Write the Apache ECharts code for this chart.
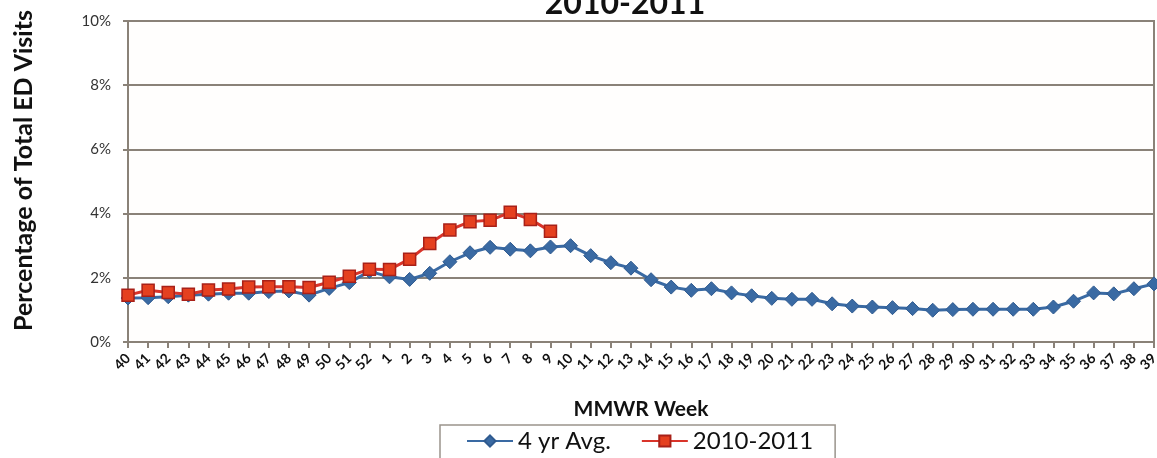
<!DOCTYPE html>
<html><head><meta charset="utf-8">
<script src="https://cdn.jsdelivr.net/npm/echarts@6/dist/echarts.min.js"></script>
<style>html,body{margin:0;padding:0;background:#fff}#c{width:1157px;height:458px}</style>
</head><body><div id="c"></div>
<script>
const weeks = ['40','41','42','43','44','45','46','47','48','49','50','51','52','1','2','3','4','5','6','7','8','9','10','11','12','13','14','15','16','17','18','19','20','21','22','23','24','25','26','27','28','29','30','31','32','33','34','35','36','37','38','39'];
const avg4yr = [1.37,1.38,1.41,1.46,1.49,1.52,1.52,1.57,1.59,1.46,1.67,1.85,2.2,2.03,1.95,2.14,2.5,2.78,2.95,2.89,2.84,2.96,3.0,2.69,2.47,2.3,1.94,1.71,1.61,1.66,1.53,1.44,1.36,1.33,1.33,1.19,1.12,1.09,1.07,1.04,0.99,1.01,1.02,1.02,1.02,1.02,1.09,1.27,1.53,1.5,1.66,1.81];
const season = [1.46,1.61,1.54,1.49,1.62,1.65,1.71,1.72,1.72,1.7,1.86,2.05,2.27,2.26,2.58,3.07,3.49,3.75,3.79,4.04,3.82,3.45];
const yTicks = [0,2,4,6,8,10];

const gridCol = '#8a8278';
const chart = echarts.init(document.getElementById('c'));
chart.setOption({
  animation:false,
  backgroundColor:'#fff',
  title:{text:'2010-2011',left:620,textAlign:'center',top:-17,
    textStyle:{fontFamily:'Lato',fontWeight:'bold',fontSize:32,color:'#111'}},
  grid:{left:128,right:3,top:21,bottom:116,show:true,borderColor:gridCol,borderWidth:2,backgroundColor:'#fffefd',outerBoundsMode:'none'},
  legend:{left:440,top:425,itemWidth:46,itemHeight:14,itemGap:30,
    padding:[4,22,12,26],borderColor:'#9a948c',borderWidth:1.5,
    textStyle:{fontFamily:'Lato',fontSize:24,color:'#111'},
    data:['4 yr Avg.','2010-2011']},
  xAxis:{type:'category',data:weeks,boundaryGap:false,
    name:'MMWR Week',nameLocation:'middle',nameGap:57,
    nameTextStyle:{fontFamily:'Lato',fontWeight:'bold',fontSize:21,color:'#111'},
    axisLine:{lineStyle:{color:gridCol,width:2}},
    axisTick:{show:true,interval:0,length:6,lineStyle:{color:gridCol,width:2}},
    axisLabel:{interval:0,rotate:45,margin:14,fontFamily:'Lato',fontWeight:'bold',fontSize:14,color:'#111'}},
  yAxis:{type:'value',min:0,max:10,interval:2,
    name:'Percentage of Total ED Visits',nameLocation:'middle',nameGap:92,
    nameTextStyle:{fontFamily:'Lato',fontWeight:'bold',fontSize:25,color:'#111',padding:[0,0,0,22]},
    axisLine:{show:true,lineStyle:{color:gridCol,width:2}},
    axisTick:{show:true,length:5,lineStyle:{color:gridCol,width:2}},
    splitLine:{lineStyle:{color:gridCol,width:2}},
    axisLabel:{formatter:v=>yTicks.includes(v)?v+'%':'',margin:17,fontFamily:'Lato',fontSize:15,color:'#333'}},
  series:[
    {name:'4 yr Avg.',type:'line',data:avg4yr,symbol:'diamond',symbolSize:14,
     lineStyle:{color:'#3a6aa3',width:3},itemStyle:{color:'#3a6aa3',borderColor:'#2f5a8f',borderWidth:1},z:2},
    {name:'2010-2011',type:'line',data:season,symbol:'rect',symbolSize:12,
     lineStyle:{color:'#d9342a',width:3},itemStyle:{color:'#e5401f',borderColor:'#a82018',borderWidth:1.5},z:3}
  ]
});
</script></body></html>
